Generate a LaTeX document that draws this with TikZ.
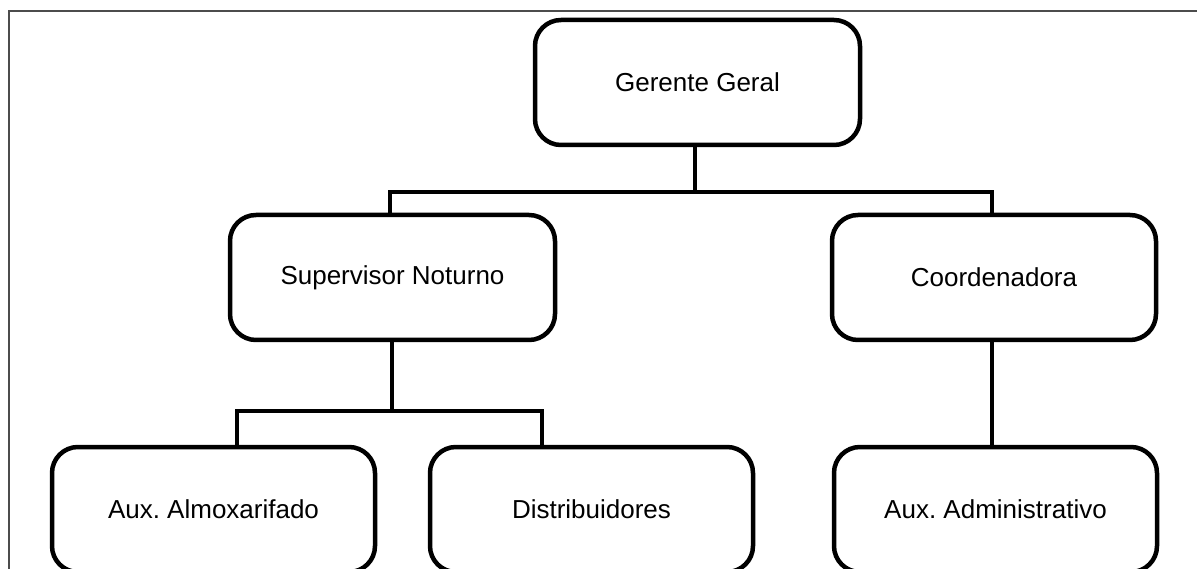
\documentclass[tikz,border=0pt]{standalone}
\usepackage{fontspec}
\setmainfont{Liberation Sans}
\frenchspacing
\begin{document}
\begin{tikzpicture}[x=1pt,y=-1pt,
  role/.style={draw=black, line width=4.5pt, rounded corners=26pt,
    rectangle, inner sep=0pt, outer sep=0pt, fill=white,
    minimum width=325pt, minimum height=125pt,
    font=\fontsize{26}{31}\selectfont},
  link/.style={draw=black, line width=4.5pt},
  frameline/.style={draw=black!70, line width=2pt}]
  \useasboundingbox (0,0) rectangle (1197,569);
  \clip (0,0) rectangle (1197,569);

  % outer frame (left and top edges)
  \draw[frameline] (9,569) -- (9,11) -- (1197,11);

  % positions
  \node[role] (gg)    at (697.5,82.5) {Gerente Geral};
  \node[role] (sup)   at (392.5,277.5) {Supervisor Noturno};
  \node[role, minimum width=324pt] (coord) at (994,277.5) {Coordenadora};
  \node[role, minimum width=323pt] (alm)   at (213.5,509.5) {Aux. Almoxarifado};
  \node[role, minimum width=323pt] (dist)  at (591.5,509.5) {Distribuidores};
  \node[role, minimum width=323pt] (adm)   at (995.5,509.5) {Aux. Administrativo};

  % branch points
  \coordinate (top)  at (695,192);
  \coordinate (midL) at (237,411);
  \coordinate (midR) at (542,411);

  % connectors
  \draw[link] (gg.south -| top) -- (top);
  \draw[link, line join=miter] (sup.north -| 390,0) |- (top) -| (coord.north -| 992,0);
  \draw[link] (sup.south -| 392,0) -- (392,411);
  \draw[link, line join=miter] (alm.north -| midL) -- (midL) -- (midR) -- (dist.north -| midR);
  \draw[link] (coord.south -| 992,0) -- (adm.north -| 992,0);
\end{tikzpicture}
\end{document}
